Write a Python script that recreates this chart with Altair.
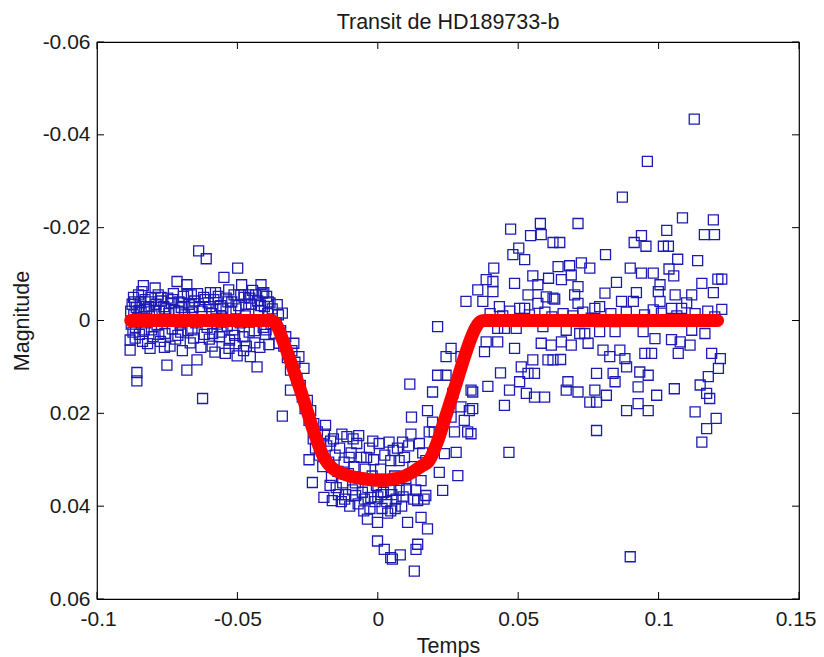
import altair as alt
import pandas as pd

# values in units of 1e-3 (Temps, Magnitude)
avant = [(-88.2,4.2),(-88.2,6.4),(-88.0,-2.0),(-87.8,0.8),(-87.5,-3.5),(-87.2,2.5),(-87.0,-5.0),(-86.9,-1.2),(-86.6,-4.0),
(-86.4,3.8),(-86.3,1.5),(-86.0,-2.8),(-85.8,11.2),(-85.8,13.0),(-85.5,-0.5),(-85.2,-5.5),(-85.0,-2.2),(-84.9,3.0),(-84.6,-3.8),
(-84.3,-1.8),(-84.0,-6.2),(-83.8,4.5),(-83.5,-7.5),(-83.2,2.0),(-83.0,-3.0),(-82.9,-4.5),(-82.6,0.5),(-82.3,-2.5),(-82.0,5.0),
(-81.6,-3.0),(-81.1,6.0),(-81.0,-4.0),(-80.8,-5.0),(-80.6,2.0),(-80.4,-1.0),(-80.0,3.5),(-79.6,-2.2),(-79.3,-7.0),(-79.0,-3.5),
(-78.6,1.0),(-78.2,-5.5),(-78.0,3.0),(-77.8,-2.0),(-77.4,4.5),(-77.2,-5.0),(-77.0,-4.2),(-76.6,0.0),(-76.2,-3.0),(-76.0,5.8),
(-75.8,2.8),(-75.5,-2.5),(-75.1,9.6),(-74.8,-4.8),(-74.4,-1.5),(-74.0,5.5),(-73.6,-3.8),(-73.2,1.8),(-73.0,-4.5),(-72.8,-5.8),
(-72.4,-2.2),(-72.0,4.0),(-71.5,-8.4),(-71.2,3.2),(-71.0,-2.0),(-70.8,-4.0),(-70.4,0.8),(-70.2,2.5),(-70.0,-2.8),(-69.8,-3.8),
(-69.6,6.5),(-69.2,-5.2),(-68.8,-1.2),(-68.0,10.7),(-68.0,-7.7),(-67.8,-5.8),(-67.6,2.2),(-67.2,-3.5),(-66.8,4.8),(-66.4,-5.5),
(-66.2,2.0),(-66.0,-1.8),(-65.8,-2.8),(-65.6,3.8),(-65.2,-4.2),(-64.8,0.5),(-64.4,8.5),(-64.2,-5.8),(-63.8,-15.0),(-63.5,-3.0),
(-63.0,5.8),(-62.6,-2.0),(-62.4,16.8),(-62.0,-5.0),(-61.8,3.0),(-61.5,-4.5),(-61.1,-13.3),(-60.8,1.5),(-60.4,-3.8),(-60.0,4.0),
(-59.8,-3.0),(-59.6,-6.0),(-59.2,-1.5),(-59.0,5.5),(-58.8,2.8),(-58.4,-4.5),(-58.0,6.8),(-57.8,-6.0),(-57.6,-2.5),(-57.2,0.8),
(-56.8,-5.2),(-56.4,3.5),(-56.0,-3.2),(-55.8,2.5),(-55.6,-0.8),(-55.2,-2.5),(-54.8,-9.3),(-54.3,7.1),(-54.0,-4.8),(-53.6,1.2),
(-53.4,-4.0),(-53.1,-6.6),(-53.0,6.0),(-52.8,4.2),(-52.4,-2.0),(-52.0,-4.0),(-51.6,2.0),(-51.2,-5.5),(-51.0,3.2),(-50.8,5.0),
(-50.5,-2.5),(-50.1,7.6),(-49.9,-11.3),(-49.5,-3.2),(-49.0,0.5),(-48.8,-5.5),(-48.5,-7.7),(-48.0,3.5),(-47.8,6.5),(-47.6,-5.0),
(-47.2,-1.0),(-47.0,-3.5),(-46.8,5.5),(-46.0,-5.5),(-45.8,2.5),(-45.6,-4.8),(-45.4,7.8),(-45.0,-3.5),(-44.6,-6.5),(-44.2,0.0),
(-44.0,2.2),(-43.8,4.8),(-43.5,-5.5),(-43.0,10.0),(-42.8,-4.2),(-42.4,-2.2),(-42.0,5.8),(-41.8,-3.2),(-41.6,-7.7),(-41.2,-5.9),
(-40.8,1.5),(-40.6,-6.0),(-40.4,-3.0),(-40.0,3.0),(-39.8,2.0),(-39.6,-5.2),(-39.2,-1.5),(-39.0,-4.0),(-38.8,5.2),(-38.4,-3.8),
(-38.0,0.8),(-37.6,-2.5)]

transit = [(-37.0,2.8),(-36.2,0.5),(-35.8,-3.4),(-35.4,-1.2),(-35.2,4.9),(-34.6,2.2),(-34.0,-1.6),(-34.0,20.6),(-33.5,5.5),
(-32.8,3.5),(-32.2,8.0),(-31.1,10.7),(-31.1,15.0),(-30.6,6.5),(-29.9,4.9),(-29.5,9.0),(-28.8,12.5),(-28.1,7.8),(-27.6,14.0),
(-26.9,16.5),(-26.3,10.3),(-25.9,19.0),(-25.1,17.2),(-24.5,30.0),(-24.5,21.5),(-23.9,19.4),(-23.3,34.9),(-23.0,25.5),(-22.8,22.2),
(-22.2,27.5),(-21.5,24.0),(-20.8,29.0),(-20.4,26.5),(-19.6,31.5),(-19.2,38.1),(-19.0,24.5),(-18.6,22.6),(-18.2,27.0),(-17.5,30.5),
(-17.0,35.5),(-16.8,26.0),(-16.5,33.8),(-16.2,38.8),(-15.8,25.5),(-15.2,29.0),(-14.8,36.0),(-14.2,32.5),(-14.0,37.5),(-13.6,27.5),
(-13.0,39.0),(-12.8,24.5),(-12.5,35.0),(-12.0,30.5),(-11.8,38.5),(-11.5,37.5),(-11.0,25.0),(-10.5,33.0),(-10.2,29.5),(-10.0,40.0),
(-9.5,28.5),(-9.0,36.5),(-8.8,25.5),(-8.5,31.5),(-8.0,35.0),(-7.9,37.7),(-7.5,26.5),(-7.0,39.5),(-6.8,24.8),(-6.5,34.0),
(-6.0,29.5),(-5.5,37.0),(-5.0,41.0),(-4.8,38.5),(-4.5,32.0),(-4.0,29.5),(-3.7,42.8),(-3.5,36.0),(-3.0,27.5),(-2.8,40.5),
(-2.5,38.1),(-2.0,33.5),(-1.8,26.0),(-1.5,30.0),(-1.0,39.0),(-0.5,35.5),(-0.1,43.5),(-0.1,47.5),(0.0,38.0),(0.5,26.5),
(1.0,32.0),(1.2,37.5),(1.5,40.5),(2.0,37.0),(2.3,49.3),(2.5,29.0),(3.0,34.5),(3.2,39.0),(3.5,41.5),(4.0,26.2),
(4.6,30.2),(4.6,36.6),(4.6,41.0),(4.6,51.1),(5.0,37.5),(5.2,51.4),(5.5,28.0),(6.0,33.5),(6.2,40.5),(6.5,38.5),
(7.0,27.5),(7.6,30.2),(7.6,36.6),(8.0,50.5),(8.5,40.0),(8.8,26.2),(9.0,38.0),(9.5,29.5),(10.0,34.0),(10.2,36.5),
(10.6,43.5),(11.0,27.0),(11.4,13.7),(11.8,24.5),(12.0,20.8),(12.5,31.5),(12.8,38.5),(13.0,54.0),(13.5,36.5),(13.6,49.3),
(14.2,38.8),(14.2,48.2),(14.8,26.5),(15.4,34.5),(15.4,42.4),(16.0,28.5),(16.5,38.5),(17.1,30.2),(17.1,37.7),(17.7,19.4),
(17.7,44.9),(18.3,24.0),(19.5,21.9),(19.5,15.4),(20.1,24.0),(21.3,1.3),(21.3,11.8),(21.9,32.7),(23.1,36.6),(23.7,28.7),
(24.3,11.8),(24.3,7.8),(26.1,6.0),(26.1,20.8),(26.7,15.7),(27.3,24.0),(27.9,28.4),(28.5,33.4),(29.6,7.8),(29.6,18.6),
(30.8,21.5),(31.4,-4.1),(32.0,24.0),(32.6,19.4),(33.2,15.0),(33.8,15.4),(33.8,19.0),(33.2,24.4),(35.6,-6.6)]

apres = [(37.4,-4.1),(38.6,-8.8),(39.2,14.2),(47.3,-19.7),(57.9,-20.9),(71.3,-20.9),(54.4,-18.3),(58.2,-18.5),(62.4,-16.8),
(64.8,-16.8),(50.2,-15.6),(48.1,-14.2),(52.3,-13.1),(41.3,-11.3),(41.0,-8.4),(48.7,-8.0),(55.2,-9.6),(57.0,-7.7),(60.8,-9.1),
(64.2,-11.6),(68.3,-11.8),(72.5,-12.4),(75.5,-11.3),(68.9,-9.8),(65.4,-8.8),(71.3,-7.3),(70.1,-5.5),(60.0,-5.1),(62.4,-4.8),
(63.0,-4.6),(53.5,-5.5),(41.0,-6.2),(57.0,-3.7),(50.5,-2.6),(52.3,-2.6),(43.3,-3.0),(71.3,-3.7),(77.3,-2.6),
(42.7,1.7),(45.1,1.7),(49.3,1.7),(58.8,1.3),(67.1,2.1),(71.9,2.8),(73.7,2.8),(74.9,4.9),(38.6,4.6),(38.0,6.7),(42.7,4.6),
(48.7,6.0),(58.2,4.9),(61.8,5.3),(65.4,4.6),(68.9,5.3),(60.6,8.5),(62.4,8.5),(65.1,8.4),(55.2,8.5),(43.7,11.3),(51.1,10.0),
(53.5,11.4),(55.8,11.4),(50.5,13.2),(67.7,13.2),(67.1,15.0),(71.3,15.4),(46.9,15.0),(52.9,15.7),(55.8,16.5),(59.4,16.5),
(77.3,15.0),(75.5,17.6),(77.9,17.6),(45.1,18.3),(77.9,23.7),(46.7,28.4),
(40.0,-1.5),(44.5,-1.0),(47.0,-2.0),(54.0,-1.2),(59.5,-1.8),(62.0,-0.8),(66.0,-1.5),(69.5,-1.0),(73.0,-1.8),(76.0,-0.5),
(112.7,-43.4),(96.0,-34.3),(87.1,-26.6),(108.5,-22.1),(119.5,-21.7),(116.3,-18.5),(119.9,-18.5),(102.9,-19.4),(93.9,-18.3),
(91.3,-16.8),(95.5,-16.0),(101.7,-16.0),(103.5,-16.0),(81.1,-14.2),(106.8,-13.2),(113.9,-12.9),(89.9,-11.3),(103.7,-11.1),
(93.9,-10.2),(98.1,-10.2),(105.4,-9.6),(85.0,-8.2),(100.5,-7.7),(115.4,-8.0),(121.1,-8.9),(122.5,-8.9),(80.9,-5.9),(92.1,-6.0),
(99.9,-6.2),(105.9,-5.5),(111.8,-5.5),(119.5,-6.0),(86.8,-4.1),(91.0,-4.1),(100.5,-4.1),(110.0,-3.8),(79.0,-3.0),(104.6,-2.6),
(108.2,-2.6),(122.5,-2.4),(98.1,-2.3),
(79.0,2.4),(84.5,2.4),(94.5,2.4),(98.7,3.9),(104.6,4.1),(107.7,4.6),(111.8,2.1),(116.5,2.8),(80.2,6.4),(82.6,7.8),
(86.2,6.4),(88.0,8.2),(95.1,7.1),(97.5,7.1),(111.2,5.3),(107.0,7.1),(118.9,7.1),(122.0,8.2),(88.6,10.0),(93.3,11.1),
(77.9,11.4),(83.8,11.4),(96.3,11.8),(121.3,10.3),(117.7,12.1),(114.8,13.9),(84.5,13.2),(92.7,14.3),(105.6,14.7),(117.1,15.7),
(118.2,16.8),(81.4,16.1),(99.3,16.1),(88.6,19.4),(92.7,17.9),(96.3,19.4),(113.0,19.7),(120.5,21.1),(117.1,23.3),(115.4,26.2),
(89.9,50.9),
(83.0,-1.5),(88.5,-1.8),(95.0,-1.2),(101.0,-1.6),(106.5,-1.0),(113.0,-1.5),(117.5,-2.0),(120.0,-0.8)]

# transit model (red), units of 1e-3
model_t = [-88, -38, -37, -36, -35, -34, -33, -32, -31, -30, -29, -28, -27, -26, -25, -24, -23, -22, -21, -20,
           -19, -18, -17, -16, -15, -14, -13, -12, -11, -10, -9, -8, -7, -6, -5, -4, -3, -2, -1, 0,
           1, 2, 3, 4, 5, 6, 7, 8, 9, 10, 11, 12, 13, 14, 15, 16, 17, 18, 19, 20,
           21, 22, 23, 24, 25, 26, 27, 28, 29, 30, 31, 32, 33, 34, 35, 36, 37, 38, 121]
model_mag = [0.0, 0.0, 0.2, 1.0, 2.3, 4.0, 5.6, 7.2, 8.9, 10.6, 12.4, 14.2, 16.0, 17.9, 19.8, 21.7, 23.6, 25.3, 27.0, 28.5,
             29.7, 30.6, 31.3, 31.9, 32.3, 32.6, 32.9, 33.1, 33.3, 33.5, 33.7, 33.8, 33.9, 34.0, 34.1, 34.2, 34.3, 34.3, 34.4, 34.4,
             34.4, 34.4, 34.4, 34.3, 34.2, 34.1, 34.0, 33.8, 33.6, 33.4, 33.1, 32.8, 32.4, 32.0, 31.6, 31.2, 30.9, 30.4, 29.4, 28.0,
             26.5, 24.8, 22.9, 21.0, 19.1, 17.2, 15.3, 13.4, 11.4, 9.5, 7.6, 5.8, 4.1, 2.6, 1.4, 0.5, 0.1, 0.0, 0.0]

x_ticks = [-0.1, -0.05, 0, 0.05, 0.1, 0.15]
y_ticks = [-0.06, -0.04, -0.02, 0, 0.02, 0.04, 0.06]

pts = avant + transit + apres
obs = pd.DataFrame({"Temps": [p[0] / 1000 for p in pts], "Magnitude": [p[1] / 1000 for p in pts]})
mod = pd.DataFrame({"Temps": [t / 1000 for t in model_t], "Magnitude": [m / 1000 for m in model_mag]})

W, H = 702, 557
FONT = "Liberation Sans"
TXT = "#1a1a1a"
lab = "datum.value < 0 ? '-' + format(-datum.value, '.2~f') : format(datum.value, '.2~f')"

xscale = alt.Scale(domain=[-0.1, 0.15], nice=False, zero=False)
yscale = alt.Scale(domain=[-0.06, 0.06], nice=False, zero=False, reverse=True)

xaxis = alt.Axis(values=x_ticks, labelExpr=lab, title="Temps")
yaxis = alt.Axis(values=y_ticks, labelExpr=lab, title="Magnitude")

blue = alt.Chart(obs).mark_point(shape="square", filled=False, size=100, strokeWidth=1.3,
                                  color="#1c1cb4", opacity=1).encode(
    x=alt.X("Temps:Q", scale=xscale, axis=xaxis),
    y=alt.Y("Magnitude:Q", scale=yscale, axis=yaxis),
)

red = alt.Chart(mod).mark_line(color="#ff0000", strokeWidth=13, strokeCap="round",
                               strokeJoin="round", interpolate="monotone").encode(
    x=alt.X("Temps:Q", scale=xscale, axis=xaxis),
    y=alt.Y("Magnitude:Q", scale=yscale, axis=yaxis),
)

xt = pd.DataFrame({"v": x_ticks})
yt = pd.DataFrame({"v": y_ticks})
tick_style = dict(color="black", strokeWidth=1)
tb = alt.Chart(xt).mark_rule(**tick_style).encode(
    x=alt.X("v:Q", scale=xscale, axis=xaxis), y=alt.value(H), y2=alt.value(H - 7))
tt = alt.Chart(xt).mark_rule(**tick_style).encode(
    x=alt.X("v:Q", scale=xscale, axis=xaxis), y=alt.value(0), y2=alt.value(7))
tl = alt.Chart(yt).mark_rule(**tick_style).encode(
    y=alt.Y("v:Q", scale=yscale, axis=yaxis), x=alt.value(0), x2=alt.value(7))
tr = alt.Chart(yt).mark_rule(**tick_style).encode(
    y=alt.Y("v:Q", scale=yscale, axis=yaxis), x=alt.value(W), x2=alt.value(W - 7))

chart = alt.layer(blue, red, tb, tt, tl, tr).properties(
    width=W, height=H,
    padding={"left": 89, "top": 34, "right": 17, "bottom": 58},
    autosize=alt.AutoSizeParams(type="none"),
    title=alt.TitleParams("Transit de HD189733-b", font=FONT, fontSize=21.5, fontWeight="normal",
                          color=TXT, anchor="middle", offset=0, dy=2),
).configure_view(
    stroke="black", strokeWidth=1.2
).configure_axis(
    tickSize=0, domain=False, grid=False,
    labelFont=FONT, labelFontSize=21, labelColor=TXT,
    labelOverlap=False,
    titleFont=FONT, titleFontSize=21.5, titleFontWeight="normal", titleColor=TXT,
).configure_axisX(
    labelPadding=9.5, labelFlush=True, labelFlushOffset=17,
    titleY=53, titleBaseline="alphabetic"
).configure_axisY(
    labelPadding=7, labelFlush=False,
    titleX=-69, titleBaseline="alphabetic"
)

chart.save("out.html", embed_options={"renderer": "svg", "actions": False})
